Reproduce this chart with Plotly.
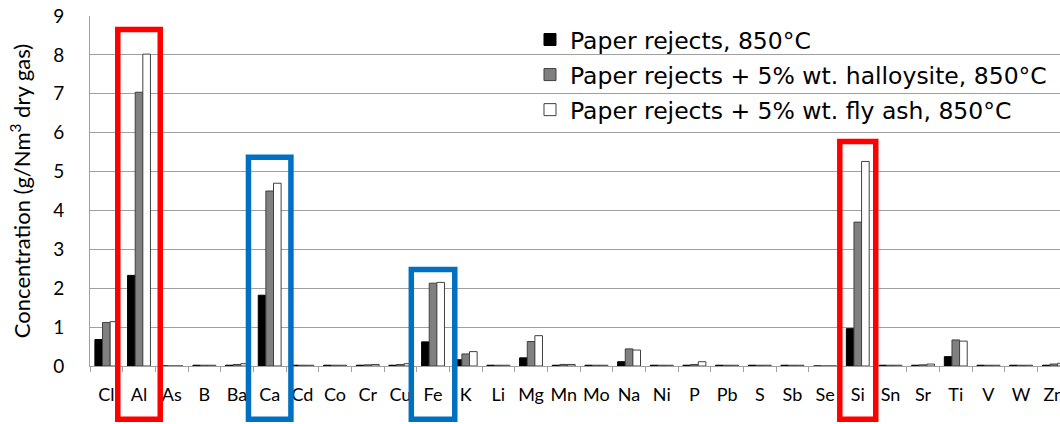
import plotly.graph_objects as go

elements = ["Cl", "Al", "As", "B", "Ba", "Ca", "Cd", "Co", "Cr", "Cu", "Fe", "K", "Li", "Mg", "Mn",
            "Mo", "Na", "Ni", "P", "Pb", "S", "Sb", "Se", "Si", "Sn", "Sr", "Ti", "V", "W", "Zn"]

paper_rejects = [0.68, 2.33, 0.0, 0.02, 0.02, 1.82, 0.02, 0.02, 0.02, 0.02, 0.62, 0.16, 0.02, 0.21, 0.02,
                 0.02, 0.11, 0.02, 0.02, 0.02, 0.02, 0.02, 0.0, 0.96, 0.02, 0.02, 0.24, 0.02, 0.02, 0.02]
halloysite = [1.12, 7.04, 0.0, 0.02, 0.04, 4.50, 0.02, 0.02, 0.03, 0.04, 2.13, 0.31, 0.02, 0.63, 0.04,
              0.02, 0.44, 0.02, 0.04, 0.02, 0.02, 0.02, 0.0, 3.70, 0.02, 0.03, 0.67, 0.02, 0.02, 0.05]
fly_ash = [1.14, 8.02, 0.0, 0.02, 0.06, 4.70, 0.02, 0.02, 0.04, 0.06, 2.15, 0.37, 0.02, 0.78, 0.04,
           0.02, 0.41, 0.02, 0.11, 0.02, 0.02, 0.02, 0.0, 5.26, 0.02, 0.05, 0.64, 0.02, 0.02, 0.07]

series_names = ["Paper rejects, 850°C",
                "Paper rejects + 5% wt. halloysite, 850°C",
                "Paper rejects + 5% wt. fly ash, 850°C"]

# highlighted elements: (element, half-width in categories, top in data units, colour)
highlights = [("Al", 0.65, 8.65, "#FF0000"),
              ("Ca", 0.65, 5.37, "#0070C0"),
              ("Fe", 0.665, 2.48, "#0070C0"),
              ("Si", 0.55, 5.77, "#FF0000")]

FONT = "Lato"
X_MIN, X_MAX = -0.5, 29.19
Y_MIN, Y_MAX = 0, 9
BOX_BOTTOM = -0.152  # paper units below the axis

fig = go.Figure()
fig.add_trace(go.Bar(x=elements, y=paper_rejects, name=series_names[0], legendgroup="a",
                     marker=dict(color="#000000", line=dict(color="#000000", width=1))))
fig.add_trace(go.Bar(x=elements, y=halloysite, name=series_names[1], legendgroup="b",
                     marker=dict(color="#808080", line=dict(color="#404040", width=1))))
fig.add_trace(go.Bar(x=elements, y=fly_ash, name=series_names[2], legendgroup="c",
                     marker=dict(color="#FFFFFF", line=dict(color="#404040", width=1))))

shapes = []
for el, hw, top, col in highlights:
    idx = elements.index(el)
    x0 = (idx - hw - X_MIN) / (X_MAX - X_MIN)
    x1 = (idx + hw - X_MIN) / (X_MAX - X_MIN)
    y1 = (top - Y_MIN) / (Y_MAX - Y_MIN)
    shapes.append(dict(type="rect", xref="paper", yref="paper", x0=x0, x1=x1, y0=BOX_BOTTOM, y1=y1,
                       line=dict(color=col, width=5.5), fillcolor="rgba(0,0,0,0)", layer="above"))

fig.update_layout(
    width=1060, height=424,
    margin=dict(l=90, r=0, t=16, b=58, autoexpand=False),
    plot_bgcolor="white", paper_bgcolor="white",
    barmode="group", bargap=0.3, bargroupgap=0,
    font=dict(family=FONT, color="#000000"),
    shapes=shapes,
    showlegend=True,
    legend=dict(x=0.4536, y=0.995, xanchor="left", yanchor="top",
                font=dict(family="DejaVu Sans", size=23.5, color="#000000"),
                bgcolor="rgba(255,255,255,0)", traceorder="grouped", tracegroupgap=1.5),
    xaxis=dict(type="category", range=[X_MIN, X_MAX], showgrid=False, automargin=False,
               showline=True, linecolor="#A0A0A0", linewidth=1, tickangle=0,
               ticks="outside", tickson="boundaries", ticklen=5, tickcolor="#A0A0A0",
               tickfont=dict(family=FONT, size=18, color="#000000"), ticklabelstandoff=12),
    yaxis=dict(range=[Y_MIN, Y_MAX], dtick=1, showgrid=True, gridcolor="#A0A0A0", gridwidth=1,
               showline=True, linecolor="#A0A0A0", linewidth=1, zeroline=False, automargin=False,
               tickfont=dict(family=FONT, size=19, color="#000000"), ticklabelstandoff=21,
               title=dict(text="Concentration (g/Nm<sup>3</sup> dry gas)",
                          font=dict(family=FONT, size=22, color="#000000"), standoff=16)),
)

fig.write_html("out.html", config={"displayModeBar": False},
               post_script="document.body.style.margin='0';document.body.style.overflow='hidden';")
